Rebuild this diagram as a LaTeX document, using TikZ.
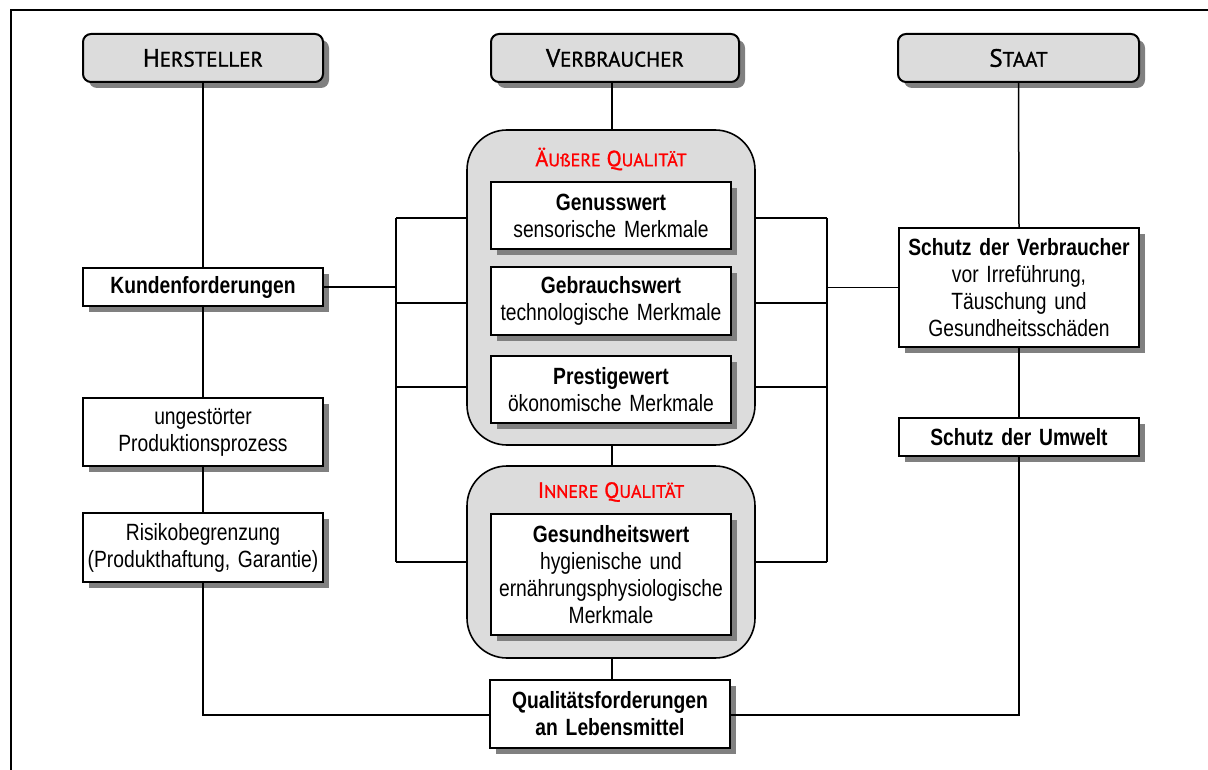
\documentclass[tikz,border=0pt]{standalone}
\usepackage{fontspec}
\setmainfont{Liberation Sans}[FakeStretch=0.82, WordSpace=0.8]
\newfontfamily\hdrfam{PT Sans}[FakeBold=1.2]
\usetikzlibrary{shadows}

\definecolor{boxgray}{RGB}{220,220,220}
\definecolor{shadegray}{RGB}{128,128,128}
\definecolor{qred}{RGB}{255,0,0}

% small-caps style headings
\newcommand\hsmall[1]{{\fontsize{21}{21}\selectfont #1}}
\newcommand\rsmall[1]{{\fontsize{18}{18}\selectfont #1}}

\tikzset{
  conn/.style={line width=1.5pt},
  shade/.style={drop shadow={shadow xshift=6pt,shadow yshift=-6pt,fill=shadegray,opacity=1}},
  hdr/.style={draw, line width=2pt, rounded corners=8pt, fill=boxgray, shade,
    minimum height=48pt, inner sep=0pt,
    font=\hdrfam\fontsize{25}{25}\selectfont},
  wbox/.style={draw, line width=2pt, fill=white, shade, inner sep=0pt,
    minimum width=240pt, text width=236pt, align=center,
    font=\fontsize{23.5}{27}\selectfont},
  qbox/.style={draw, line width=1.6pt, rounded corners=40pt, fill=boxgray,
    minimum width=288pt, inner sep=0pt},
  qhead/.style={text=qred, font=\hdrfam\fontsize{22}{22}\selectfont, inner sep=0pt},
}

\begin{document}
\begin{tikzpicture}[x=1pt,y=-1pt]
\useasboundingbox (0,0) rectangle (1208,770);

% outer frame
\draw[line width=2.2pt] (1212,10) -- (11,10) -- (11,775);

% quality groups
\node[qbox, minimum height=315pt] (outer) at (611,287.5) {};
\node[qbox, minimum height=192pt] (inner) at (611,562) {};
\node[qhead] (outerhead) at (611,159) {Ä\rsmall{UßERE} Q\rsmall{UALITÄT}};
\node[qhead] (innerhead) at (611,492) {I\rsmall{NNERE} Q\rsmall{UALITÄT}};

% headings
\node[hdr, minimum width=240pt] (herst) at (203,58) {H\hsmall{ERSTELLER}};
\node[hdr, minimum width=248pt] (verbr) at (615,58) {V\hsmall{ERBRAUCHER}};
\node[hdr, minimum width=241pt] (staat) at (1018.5,58) {S\hsmall{TAAT}};

% producer column
\node[wbox, minimum height=38pt] (kunden) at (203,287) {\textbf{Kundenforderungen}};
\node[wbox, minimum height=68pt] (ungest) at (203,432) {ungestörter\\Produktionsprozess};
\node[wbox, minimum height=69pt] (risiko) at (203,547.5) {Risikobegrenzung\\(Produkthaftung, Garantie)};

% consumer column
\node[wbox, minimum height=67pt] (genuss) at (611,215.5) {\textbf{Genusswert}\\sensorische Merkmale};
\node[wbox, minimum height=68pt] (gebrauch) at (611,301) {\textbf{Gebrauchswert}\\technologische Merkmale};
\node[wbox, minimum height=67pt] (prestige) at (611,389.5) {\textbf{Prestigewert}\\ökonomische Merkmale};
\node[wbox, minimum height=121pt] (gesund) at (611,574.5) {\textbf{Gesundheitswert}\\hygienische und\\ernährungsphysiologische\\Merkmale};

% state column
\node[wbox, minimum height=119pt] (schutzv) at (1019,287.5) {\textbf{Schutz der Verbraucher}\\vor Irreführung,\\Täuschung und\\Gesundheitsschäden};
\node[wbox, minimum height=38pt] (umwelt) at (1019,437) {\textbf{Schutz der Umwelt}};

% result
\node[wbox, minimum height=68pt] (qual) at (610,714) {\textbf{Qualitätsforderungen}\\\textbf{an Lebensmittel}};

% bus points
\coordinate (bl1) at (396,218);
\coordinate (bl2) at (396,303);
\coordinate (bl3) at (396,387);
\coordinate (bl4) at (396,562);
\coordinate (br1) at (827,218);
\coordinate (br2) at (827,303);
\coordinate (br3) at (827,387);
\coordinate (br4) at (827,562);
\coordinate (cl) at (203,715);
\coordinate (cr) at (1019,715);

% producer connectors
\draw[conn] (herst.south) -- (kunden.north);
\draw[conn] (kunden.south) -- (ungest.north);
\draw[conn] (ungest.south) -- (risiko.north);
\draw[conn] (risiko.south) -- (cl) -- (cl -| qual.west);
\draw[conn] (kunden.east) -- (kunden.east -| bl1);
\draw[conn] (bl1) -- (bl4);
\draw[conn] (bl1) -- (bl1 -| outer.west);
\draw[conn] (bl2) -- (bl2 -| outer.west);
\draw[conn] (bl3) -- (bl3 -| outer.west);
\draw[conn] (bl4) -- (bl4 -| inner.west);

% consumer connectors
\draw[conn] (612,82) -- (612,130);
\draw[conn] (612,445) -- (612,466);
\draw[conn] (612,658) -- (612,680);

% state connectors
\draw[conn] (staat.south) -- (schutzv.north);
\draw[conn] (schutzv.south) -- (umwelt.north);
\draw[conn] (umwelt.south) -- (cr) -- (cr -| qual.east);
\draw[conn] (schutzv.west) -- (schutzv.west -| br1);
\draw[conn] (br1) -- (br4);
\draw[conn] (br1) -- (br1 -| outer.east);
\draw[conn] (br2) -- (br2 -| outer.east);
\draw[conn] (br3) -- (br3 -| outer.east);
\draw[conn] (br4) -- (br4 -| inner.east);
\end{tikzpicture}
\end{document}
